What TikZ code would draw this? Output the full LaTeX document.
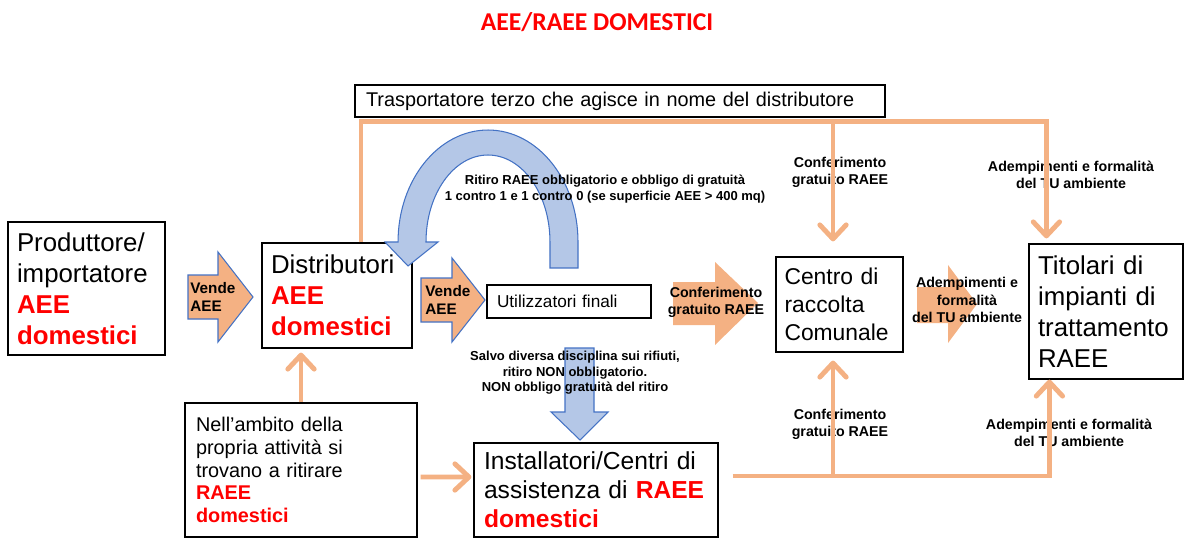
\documentclass[tikz,border=0pt]{standalone}
\usepackage{fontspec}
\setmainfont{Liberation Sans}
\newfontfamily\titlefont{Carlito}
\usetikzlibrary{arrows.meta}
\definecolor{orng}{HTML}{F4B183}
\definecolor{azz}{HTML}{B4C7E7}
\definecolor{azzbordo}{HTML}{4472C4}
\newcommand{\rosso}[1]{\textcolor{red}{\textbf{#1}}}

\begin{document}
\begin{tikzpicture}[x=0.02cm, y=-0.02cm,
    blk/.style={draw, line width=0.7pt, align=left, inner ysep=0pt},
    bigtxt/.style={font=\fontsize{14.7}{17.6}\selectfont},
    lbl/.style={font=\bfseries\fontsize{8.1}{9.8}\selectfont, align=center, inner sep=0pt},
    tinylbl/.style={lbl, font=\bfseries\fontsize{7.4}{8.9}\selectfont},
    flow/.style={draw=orng, line width=2.8pt, -{Straight Barb[length=8pt,width=15pt,round]}},
    orngblock/.style={fill=orng, draw=azzbordo, line width=0.6pt},
    bluearr/.style={fill=azz, draw=azzbordo, line width=0.6pt}]
\useasboundingbox (0,0) rectangle (1185,540);

% titolo
\node[font=\titlefont\bfseries\fontsize{14.6}{17}\selectfont, text=red] (title) at (597,22) {AEE/RAEE DOMESTICI};

% riquadri
\node[blk, font=\fontsize{11.3}{13.6}\selectfont, inner xsep=0.22cm, text width=10.16cm, minimum height=0.64cm] (trasp) at (620,101) {Trasportatore terzo che agisce in nome del distributore};
\node[blk, bigtxt, inner xsep=0.18cm, text width=2.78cm, minimum height=2.66cm] (prod) at (86.5,288.5) {Produttore/\\importatore\\\rosso{AEE}\\\rosso{domestici}};
\node[blk, bigtxt, inner xsep=0.18cm, text width=2.64cm, minimum height=2.1cm] (dist) at (337,295.5) {Distributori\\\rosso{AEE}\\\rosso{domestici}};
\node[blk, font=\fontsize{9.8}{11.8}\selectfont, inner xsep=0.2cm, text width=2.88cm, minimum height=0.66cm] (util) at (569,301.5) {Utilizzatori finali};
\node[blk, font=\fontsize{13}{15.9}\selectfont, inner xsep=0.17cm, text width=2.2cm, minimum height=1.9cm] (centro) at (839.5,304.5) {Centro di\\raccolta\\Comunale};
\node[blk, bigtxt, inner xsep=0.18cm, text width=2.72cm, minimum height=2.7cm] (titol) at (1106,311.5) {Titolari di\\impianti di\\trattamento\\RAEE};
\node[blk, font=\fontsize{11.3}{13}\selectfont, inner xsep=0.22cm, text width=4.2cm, minimum height=2.68cm] (ambito) at (301,470) {Nell’ambito della\\propria attività si\\trovano a ritirare\\\rosso{RAEE}\\\rosso{domestici}};
\node[blk, font=\fontsize{14}{16.4}\selectfont, inner xsep=0.2cm, text width=4.48cm, minimum height=1.88cm] (install) at (596,490) {Installatori/Centri di\\assistenza di \rosso{RAEE}\\\rosso{domestici}};

% frecce piene
\filldraw[orngblock] (188,275) -- (218,275) -- (218,252) -- (253,297) -- (218,342) -- (218,319) -- (188,319) -- cycle;
\filldraw[orngblock] (421,278) -- (452,278) -- (452,258) -- (485,300) -- (452,342) -- (452,322) -- (421,322) -- cycle;
\fill[orng] (673,282) -- (715,282) -- (715,262) -- (758,303) -- (715,345) -- (715,325) -- (673,325) -- cycle;
\fill[orng] (917,287) -- (948,287) -- (948,265) -- (977,304) -- (948,343) -- (948,323) -- (917,323) -- cycle;
\filldraw[bluearr] (565,348) -- (594,348) -- (594,412) -- (608,412) -- (580,440) -- (551,412) -- (565,412) -- cycle;
\filldraw[bluearr] (550,268) -- (578,268) -- (578,242)
    arc[start angle=0, end angle=180, x radius=1.8cm, y radius=2.24cm]
    -- (385,242) -- (408,266) -- (438,242) -- (426,242)
    arc[start angle=180, end angle=0, x radius=1.24cm, y radius=1.74cm] -- cycle;

% scritte
\node[lbl, font=\bfseries\fontsize{8.7}{10.4}\selectfont, align=left, anchor=west] (vende1) at (190,297) {Vende\\AEE};
\node[lbl, font=\bfseries\fontsize{8.7}{10.4}\selectfont, align=left, anchor=west] (vende2) at (425,300) {Vende\\AEE};
\node[lbl] (confarr) at (716,302) {Conferimento\\gratuito RAEE};
\node[lbl] (ademarr) at (967,300) {Adempimenti e\\formalità\\del TU ambiente};
\node[lbl] (conftop) at (840,172) {Conferimento\\gratuito RAEE};
\node[lbl] (ademtop) at (1071,175) {Adempimenti e formalità\\del TU ambiente};
\node[lbl] (confbot) at (840,424) {Conferimento\\gratuito RAEE};
\node[lbl] (adembot) at (1069,433) {Adempimenti e formalità\\del TU ambiente};
\node[tinylbl] (ritiro) at (605,189) {Ritiro RAEE obbligatorio e obbligo di gratuità\\1 contro 1 e 1 contro 0 (se superficie AEE > 400 mq)};
\node[tinylbl] (salvo) at (575,373) {Salvo diversa disciplina sui rifiuti,\\ritiro NON obbligatorio.\\NON obbligo gratuità del ritiro};

% collegamenti
\coordinate (bus) at ([yshift=-0.07cm]trasp.south);
\coordinate (d1) at ([xshift=0.48cm]dist.north);
\coordinate (t1) at ([xshift=0.36cm]titol.north west);
\coordinate (t2) at ([xshift=0.42cm]titol.south west);
\coordinate (c1) at ([xshift=-0.13cm]centro.north);
\coordinate (c2) at ([xshift=-0.13cm]centro.south);
\coordinate (i1) at ([xshift=0.28cm,yshift=0.28cm]install.east);
\draw[flow, shorten >=0.1cm] (d1) |- (bus -| t1) -- (t1);
\draw[flow, shorten >=0.3cm] (bus -| c1) -- (c1);
\draw[flow] (i1) -| (t2);
\draw[flow, shorten >=0.16cm] (i1 -| c2) -- (c2);
\draw[flow, shorten >=0.08cm] (ambito.north) -- (ambito.north |- dist.south);
\draw[flow, shorten >=0.04cm] ([xshift=0.06cm,yshift=-0.14cm]ambito.east) -- ([yshift=0.26cm]install.west);
\end{tikzpicture}
\end{document}
